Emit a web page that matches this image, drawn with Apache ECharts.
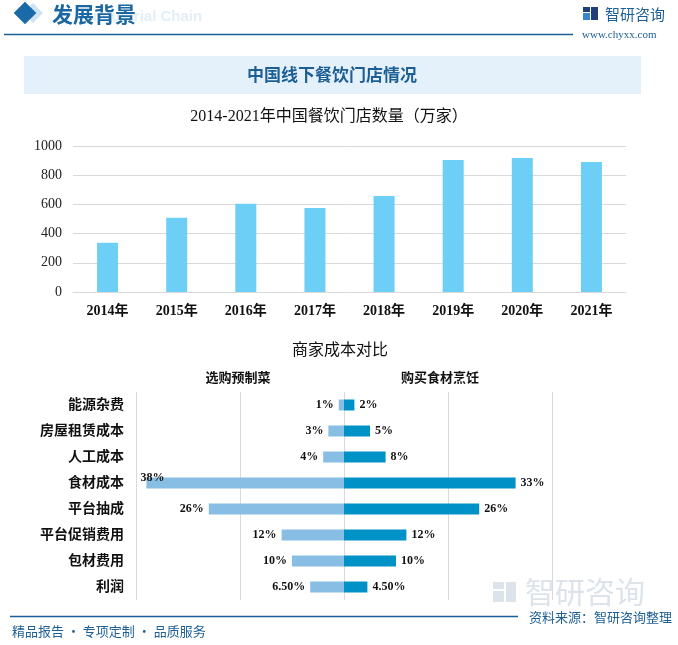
<!DOCTYPE html>
<html><head><meta charset="utf-8">
<script src="https://cdn.jsdelivr.net/npm/echarts@6/dist/echarts.min.js"></script>
<style>html,body{margin:0;padding:0;background:#fff}#c{width:678px;height:645px}</style>
</head><body><div id="c"></div>
<script>
// ---- data ----
const years = ['2014年','2015年','2016年','2017年','2018年','2019年','2020年','2021年'];
const storeCounts = [337, 508, 604, 576, 658, 904, 918, 890];
const costItems = ['能源杂费','房屋租赁成本','人工成本','食材成本','平台抽成','平台促销费用','包材费用','利润'];
const preMadeShares = [1, 3, 4, 38, 26, 12, 10, 6.5];   // 选购预制菜
const cookShares = [2, 5, 8, 33, 26, 12, 10, 4.5];      // 购买食材烹饪
const yTicks = [0, 200, 400, 600, 800, 1000];

const SERIF = "'Liberation Serif','DejaVu Serif','Noto Sans CJK SC',serif";
const SANS = "'Noto Sans CJK SC','Noto Sans',sans-serif";
const BLUE = '#1d5e94';
const fmt = v => { v = Math.abs(v); return (Number.isInteger(v) ? v : v.toFixed(2)) + '%'; };

const leftData = preMadeShares.map((v, i) => {
  const item = { value: -v };
  if (v === 38) item.label = { position: 'insideLeft', offset: [-11, -5] };
  return item;
});

const chart = echarts.init(document.getElementById('c'), null, { renderer: 'canvas' });
chart.setOption({
  backgroundColor: '#fff',
  animation: false,
  graphic: [
    // header
    { type: 'rect', rotation: Math.PI / 4, x: 33, y: 13, shape: { x: -7, y: -7, width: 14, height: 14 }, style: { fill: '#cfe3f2' } },
    { type: 'rect', rotation: Math.PI / 4, x: 25, y: 13, shape: { x: -8, y: -8, width: 16, height: 16 }, style: { fill: '#1a6aa8' } },
    { type: 'text', x: 93, y: 17, style: { text: 'ndustrial Chain', font: 'bold 15px Arial, sans-serif', fill: '#e3eef7', textVerticalAlign: 'middle' } },
    { type: 'text', x: 52, y: 14, style: { text: '发展背景', font: 'bold 21px ' + SANS, fill: '#1a67a3', textVerticalAlign: 'middle' } },
    { type: 'line', shape: { x1: 4, y1: 34.5, x2: 573, y2: 34.5 }, style: { stroke: BLUE, lineWidth: 1.5 } },
    { type: 'rect', shape: { x: 583, y: 7, width: 7, height: 5 }, style: { fill: '#1f3f7a' } },
    { type: 'rect', shape: { x: 583, y: 13, width: 7, height: 7 }, style: { fill: '#3a86c8' } },
    { type: 'rect', shape: { x: 591, y: 7, width: 7, height: 13 }, style: { fill: '#1f3f7a' } },
    { type: 'text', x: 605, y: 14, style: { text: '智研咨询', font: '15px ' + SANS, fill: BLUE, textVerticalAlign: 'middle' } },
    { type: 'text', x: 582, y: 35, style: { text: 'www.chyxx.com', font: '11px ' + SERIF, fill: BLUE, textVerticalAlign: 'middle' } },
    // band
    { type: 'rect', shape: { x: 24, y: 56, width: 617, height: 38 }, style: { fill: '#e4f1fa' } },
    { type: 'text', x: 332, y: 75, style: { text: '中国线下餐饮门店情况', font: 'bold 17px ' + SANS, fill: '#1d5e94', textAlign: 'center', textVerticalAlign: 'middle' } },
    // titles
    { type: 'text', x: 329, y: 117, style: { text: '2014-2021年中国餐饮门店数量（万家）', font: '16px ' + SERIF, fill: '#111', textAlign: 'center', textVerticalAlign: 'middle' } },
    { type: 'text', x: 340, y: 351, style: { text: '商家成本对比', font: '16px ' + SERIF, fill: '#111', textAlign: 'center', textVerticalAlign: 'middle' } },
    { type: 'text', x: 238, y: 379, style: { text: '选购预制菜', font: 'bold 13px ' + SERIF, fill: '#111', textAlign: 'center', textVerticalAlign: 'middle' } },
    { type: 'text', x: 440, y: 379, style: { text: '购买食材烹饪', font: 'bold 13px ' + SERIF, fill: '#111', textAlign: 'center', textVerticalAlign: 'middle' } },
    // bottom watermark logo
    { type: 'rect', shape: { x: 493, y: 582, width: 11, height: 7 }, style: { fill: '#dde3ea' } },
    { type: 'rect', shape: { x: 493, y: 591, width: 11, height: 11 }, style: { fill: '#dde3ea' } },
    { type: 'rect', shape: { x: 506, y: 582, width: 10, height: 20 }, style: { fill: '#dde3ea' } },
    { type: 'text', x: 525, y: 592, style: { text: '智研咨询', font: '30px ' + SANS, fill: '#dde3ea', textVerticalAlign: 'middle' } },
    // footer
    { type: 'line', shape: { x1: 10, y1: 616.5, x2: 518, y2: 616.5 }, style: { stroke: BLUE, lineWidth: 1.5 } },
    { type: 'text', x: 672, y: 617, style: { text: '资料来源：智研咨询整理', font: '13px ' + SANS, fill: BLUE, textAlign: 'right', textVerticalAlign: 'middle' } },
    { type: 'text', x: 12, y: 631, style: { text: '精品报告 · 专项定制 · 品质服务', font: '13px ' + SANS, fill: BLUE, textVerticalAlign: 'middle' } }
  ],
  grid: [
    { left: 73, right: 52, top: 146, bottom: 353 },
    { left: 136, right: 126, top: 392, bottom: 45 }
  ],
  xAxis: [
    {
      gridIndex: 0, type: 'category', data: years,
      axisLine: { lineStyle: { color: '#d9d9d9' } }, axisTick: { show: false },
      axisLabel: { fontFamily: SERIF, fontWeight: 'bold', fontSize: 14, color: '#111', margin: 12 }
    },
    {
      gridIndex: 1, type: 'value', min: -40, max: 40, interval: 20,
      axisLine: { show: false }, axisTick: { show: false }, axisLabel: { show: false },
      splitLine: { lineStyle: { color: '#d9d9d9' } }
    }
  ],
  yAxis: [
    {
      gridIndex: 0, type: 'value', min: yTicks[0], max: yTicks[yTicks.length - 1], interval: 200,
      axisLine: { show: false }, axisTick: { show: false },
      axisLabel: { fontFamily: SERIF, fontSize: 14, color: '#222', margin: 11, formatter: v => String(v) },
      splitLine: { lineStyle: { color: '#d9d9d9' } }
    },
    {
      gridIndex: 1, type: 'category', data: costItems, inverse: true,
      axisLine: { show: false }, axisTick: { show: false },
      axisLabel: { fontFamily: SERIF, fontWeight: 'bold', fontSize: 14, color: '#111', margin: 12 }
    }
  ],
  series: [
    {
      type: 'bar', xAxisIndex: 0, yAxisIndex: 0, data: storeCounts, barWidth: 21,
      itemStyle: { color: '#6dcff6' }
    },
    {
      type: 'bar', xAxisIndex: 1, yAxisIndex: 1, data: leftData, stack: 'c', barWidth: 11,
      itemStyle: { color: '#88bde4' },
      label: { show: true, position: 'left', distance: 5, formatter: p => fmt(p.value), fontFamily: SERIF, fontWeight: 'bold', fontSize: 12, color: '#111' }
    },
    {
      type: 'bar', xAxisIndex: 1, yAxisIndex: 1, data: cookShares, stack: 'c', barWidth: 11,
      itemStyle: { color: '#0092c6' },
      label: { show: true, position: 'right', distance: 5, formatter: p => fmt(p.value), fontFamily: SERIF, fontWeight: 'bold', fontSize: 12, color: '#111' }
    }
  ]
});
</script></body></html>
